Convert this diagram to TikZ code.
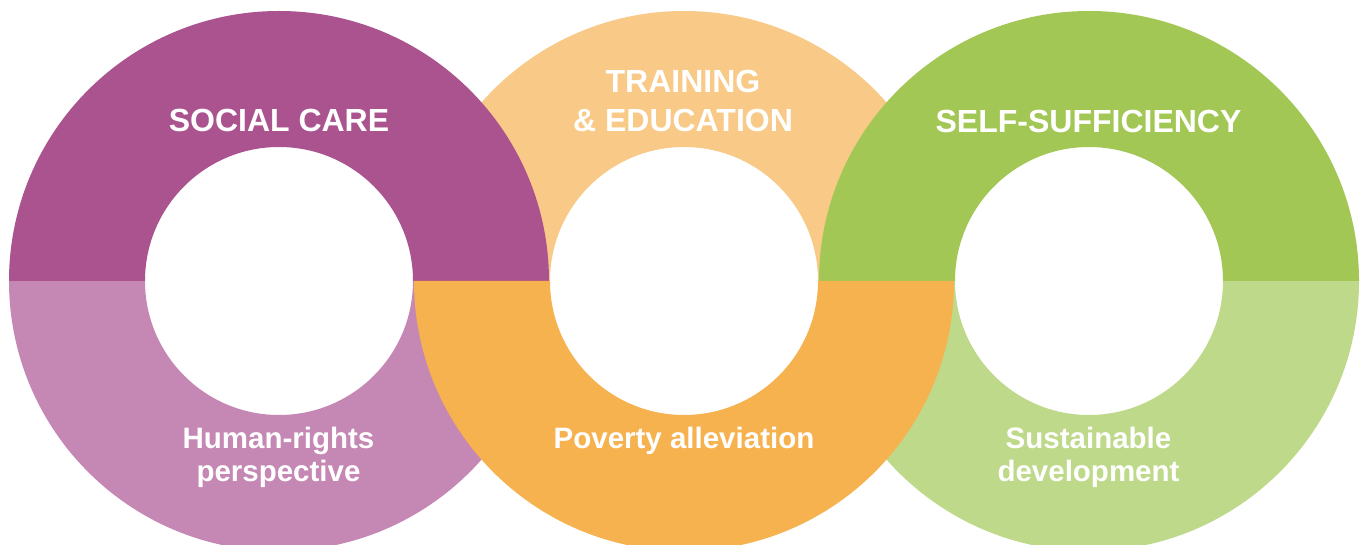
\documentclass[tikz,border=0pt]{standalone}
\usepackage{fontspec}
\setmainfont{Liberation Sans}
\definecolor{careTop}{RGB}{170,83,143}
\definecolor{careBot}{RGB}{197,135,180}
\definecolor{trainTop}{RGB}{248,201,135}
\definecolor{trainBot}{RGB}{246,178,78}
\definecolor{selfTop}{RGB}{162,199,84}
\definecolor{selfBot}{RGB}{190,217,137}
\begin{document}
\begin{tikzpicture}[x=1pt,y=1pt,
  headline/.style={text=white,inner sep=0pt,align=center,
    font=\fontsize{32}{38.5}\selectfont\bfseries},
  subline/.style={text=white,inner sep=0pt,align=center,
    font=\fontsize{29.5}{32.5}\selectfont\bfseries}]
\def\Rout{270}
\def\Rin{134}
% upper half of a ring centred at (#1,#2)
\newcommand\upperhalf[3]{%
  \fill[#3] (#1+\Rout,#2) arc[start angle=0,end angle=180,radius=\Rout]
    -- (#1-\Rin,#2) arc[start angle=180,end angle=0,radius=\Rin] -- cycle;}
% lower half of a ring centred at (#1,#2)
\newcommand\lowerhalf[3]{%
  \fill[#3] (#1+\Rout,#2) arc[start angle=0,end angle=-180,radius=\Rout]
    -- (#1-\Rin,#2) arc[start angle=-180,end angle=0,radius=\Rin] -- cycle;}
\useasboundingbox (0,0) rectangle (1365,544);
\clip (0,0) rectangle (1365,544);
\fill[white] (0,0) rectangle (1365,544);
% back layer
\upperhalf{684}{263}{trainTop}
\lowerhalf{279}{263}{careBot}
\lowerhalf{1089}{263}{selfBot}
% front layer
\upperhalf{279}{263}{careTop}
\upperhalf{1089}{263}{selfTop}
\lowerhalf{684}{263}{trainBot}
% labels
\node[headline,anchor=base] (care) at (279,412.5) {SOCIAL CARE};
\node[headline,anchor=north] (train) at (683,474) {TRAINING\\\& EDUCATION};
\node[headline,anchor=base] (self) at (1088.5,411.5) {SELF-SUFFICIENCY};
\node[subline,anchor=north] (rights) at (278.5,117) {Human-rights\\perspective};
\node[subline,anchor=base] (poverty) at (684,96) {Poverty alleviation};
\node[subline,anchor=north] (sustain) at (1088.5,117) {Sustainable\\development};
\end{tikzpicture}
\end{document}
